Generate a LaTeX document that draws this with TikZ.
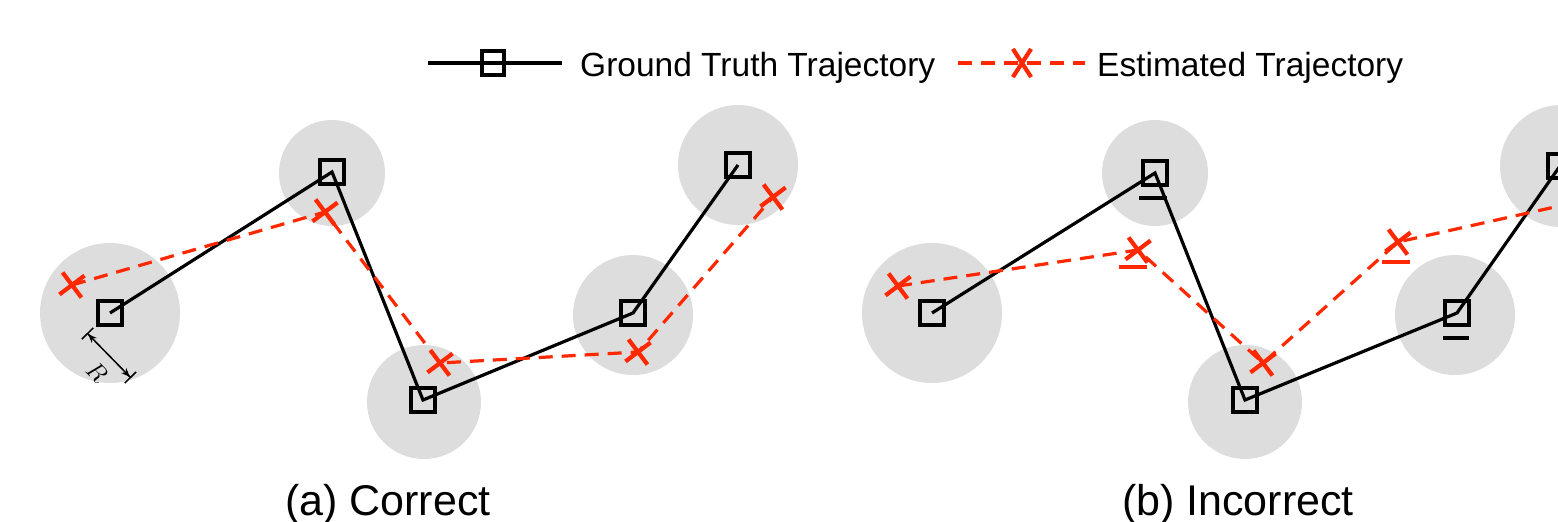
\documentclass[tikz,border=0pt]{standalone}
\usepackage{fontspec}
\setmainfont{Liberation Sans}
\usetikzlibrary{shapes.misc,arrows.meta}
\definecolor{zone}{RGB}{221,221,221}
\definecolor{est}{RGB}{255,40,0}
\tikzset{
  zonecirc/.style={fill=zone,draw=none},
  gtbox/.style={draw=black,line width=3.2pt,minimum size=24pt,inner sep=0pt,shape=rectangle},
  estx/.style={draw=est,line width=4.2pt,minimum size=18pt,inner sep=0pt,shape=cross out,rotate=-8},
  gtline/.style={draw=black,line width=3.2pt},
  estline/.style={draw=est,line width=3.2pt,dash pattern=on 14pt off 9pt},
  gtmark/.style={draw=black,line width=3.2pt},
  estmark/.style={draw=est,line width=3.6pt},
  legtext/.style={font=\fontsize{33.5}{40}\selectfont,anchor=base west,inner sep=0pt},
  captext/.style={font=\fontsize{43}{50}\selectfont,anchor=base,inner sep=0pt},
}
\begin{document}
\begin{tikzpicture}[x=1pt,y=-1pt]
\useasboundingbox (0,0) rectangle (1558,522);
\clip (0,0) rectangle (1558,522);
% zones
\fill[zonecirc] (110,313) circle (70);
\fill[zonecirc] (332,173) circle (53);
\fill[zonecirc] (424,402) circle (57);
\fill[zonecirc] (633,315) circle (60);
\fill[zonecirc] (738,165) circle (60);
\fill[zonecirc] (932,313) circle (70);
\fill[zonecirc] (1155,173) circle (53);
\fill[zonecirc] (1245,402) circle (57);
\fill[zonecirc] (1455,315) circle (60);
\fill[zonecirc] (1561,166) circle (61);
% ground truth nodes
\node[gtbox] (a1) at (110,313) {};
\node[gtbox] (a2) at (332,172) {};
\node[gtbox] (a3) at (423,400) {};
\node[gtbox] (a4) at (633,313) {};
\node[gtbox] (a5) at (738,165) {};
\node[gtbox] (b1) at (932,313) {};
\node[gtbox] (b2) at (1155,173) {};
\node[gtbox] (b3) at (1245,400) {};
\node[gtbox] (b4) at (1457,313) {};
\node[gtbox] (b5) at (1560,166) {};
% estimated nodes
\node[estx] (ea1) at (72,285) {};
\node[estx] (ea2) at (325,212) {};
\node[estx] (ea3) at (440,363) {};
\node[estx] (ea4) at (638,352) {};
\node[estx] (ea5) at (773,197) {};
\node[estx] (eb1) at (898,286) {};
\node[estx] (eb2) at (1138,250) {};
\node[estx] (eb3) at (1263,363) {};
\node[estx] (eb4) at (1398,242) {};
\node[estx] (eb5) at (1595,198) {};
% trajectories
\draw[gtline] (a1.center) -- (a2.center) -- (a3.center) -- (a4.center) -- (a5.center);
\draw[gtline] (b1.center) -- (b2.center) -- (b3.center) -- (b4.center) -- (b5.center);
\draw[estline] (ea1.center) -- (ea2.center) -- (ea3.center) -- (ea4.center) -- (ea5.center);
\draw[estline] (eb1.center) -- (eb2.center) -- (eb3.center) -- (eb4.center) -- (eb5.center);
% underline marks
\draw[gtmark] (1139,198) -- (1167,198);
\draw[gtmark] (1443,338) -- (1469,338);
\draw[estmark] (1119,267) -- (1147,267);
\draw[estmark] (1382,262) -- (1410,262);
% radius annotation
\begin{scope}
\clip (0,0) rectangle (1558,386);
\coordinate (r1) at (87,333);
\coordinate (r2) at (131,378);
\draw[line width=1.5pt,{Bar[width=16pt]Stealth[length=9pt,width=7pt]}-{Stealth[length=9pt,width=7pt]Bar[width=16pt]}] (r1) -- (r2);
\node[rotate=-45,font=\fontsize{28}{32}\selectfont,inner sep=0pt] (rl) at (97,372) {$R$};
\end{scope}
% legend
\coordinate (lg1) at (428,63);
\coordinate (lg2) at (562,63);
\draw[gtline] (lg1) -- (lg2);
\node[gtbox,minimum width=22pt,minimum height=24pt,fill=white] (lgbox) at (493,63) {};
\draw[gtline] (lgbox.west) -- (lgbox.east);
\node[legtext] (lgt1) at (580,76) {Ground Truth Trajectory};
\coordinate (le1) at (958,63);
\coordinate (le2) at (1085,63);
\draw[estline] (le1) -- (le2);
\node[estx,minimum width=14pt,minimum height=24pt,rotate=8] (lgx) at (1022,63) {};
\node[legtext] (lgt2) at (1097,76) {Estimated Trajectory};
% captions
\node[captext] (capa) at (388,515) {(a) Correct};
\node[captext] (capb) at (1238,515) {(b) Incorrect};
\end{tikzpicture}
\end{document}
